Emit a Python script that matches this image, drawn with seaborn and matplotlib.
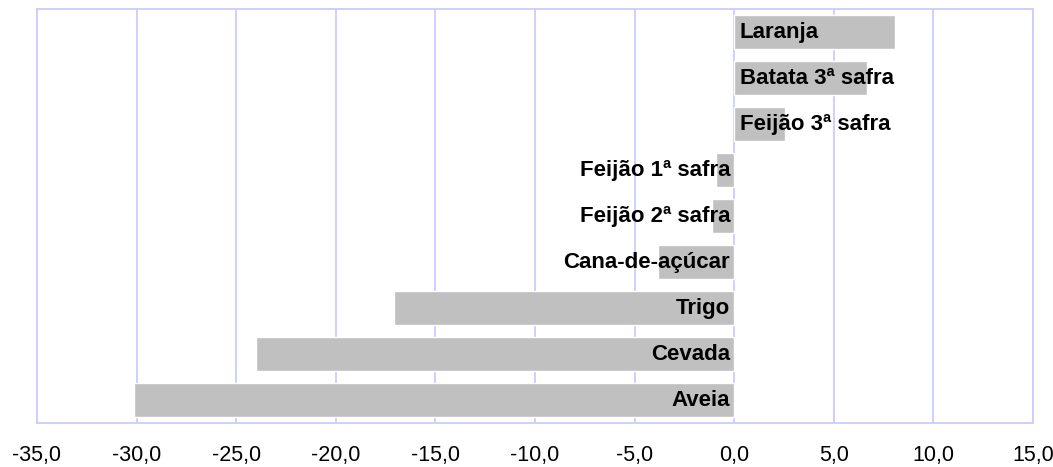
import matplotlib
matplotlib.use("Agg")
import matplotlib.pyplot as plt
import seaborn as sns
import pandas as pd

culturas = ["Laranja", "Batata 3ª safra", "Feijão 3ª safra", "Feijão 1ª safra",
            "Feijão 2ª safra", "Cana-de-açúcar", "Trigo", "Cevada", "Aveia"]
variacao = [8.05, 6.65, 2.55, -0.9, -1.1, -3.8, -17.1, -24.0, -30.15]
xticks = [-35, -30, -25, -20, -15, -10, -5, 0, 5, 10, 15]

df = pd.DataFrame({"cultura": culturas, "variacao": variacao})

sns.set_style("white")
plt.rcParams["font.family"] = ["Liberation Sans", "DejaVu Sans"]

fig = plt.figure(figsize=(10.53, 4.67), dpi=100)
ax = fig.add_axes([0.0351, 0.0942, 0.9459, 0.8865])

grid_color = "#ccccff"
for x in xticks:
    ax.axvline(x, color=grid_color, lw=1.3, zorder=0)

sns.barplot(data=df, x="variacao", y="cultura", order=culturas, orient="h",
            color="#c0c0c0", saturation=1, width=0.76, ax=ax, zorder=2)

for i, (nome, v) in enumerate(zip(culturas, variacao)):
    if v > 0:
        ax.annotate(nome, (0, i), xytext=(4, 0), textcoords="offset points",
                    ha="left", va="center", fontsize=16, fontweight="bold",
                    color="black", zorder=3)
    else:
        ax.annotate(nome, (0, i), xytext=(-3, 0), textcoords="offset points",
                    ha="right", va="center", fontsize=16, fontweight="bold",
                    color="black", zorder=3)

ax.set_xlim(-35, 15)
ax.set_ylim(len(culturas) - 0.5, -0.5)
ax.set_xticks(xticks)
ax.set_xticklabels([f"{x:.1f}".replace(".", ",") for x in xticks],
                   fontsize=15.5, color="black")
ax.tick_params(axis="x", length=0, pad=16)
ax.set_yticks([])
ax.set_xlabel("")
ax.set_ylabel("")
for s in ax.spines.values():
    s.set_color(grid_color)
    s.set_linewidth(1.3)

fig.savefig("out.png", dpi=100)
